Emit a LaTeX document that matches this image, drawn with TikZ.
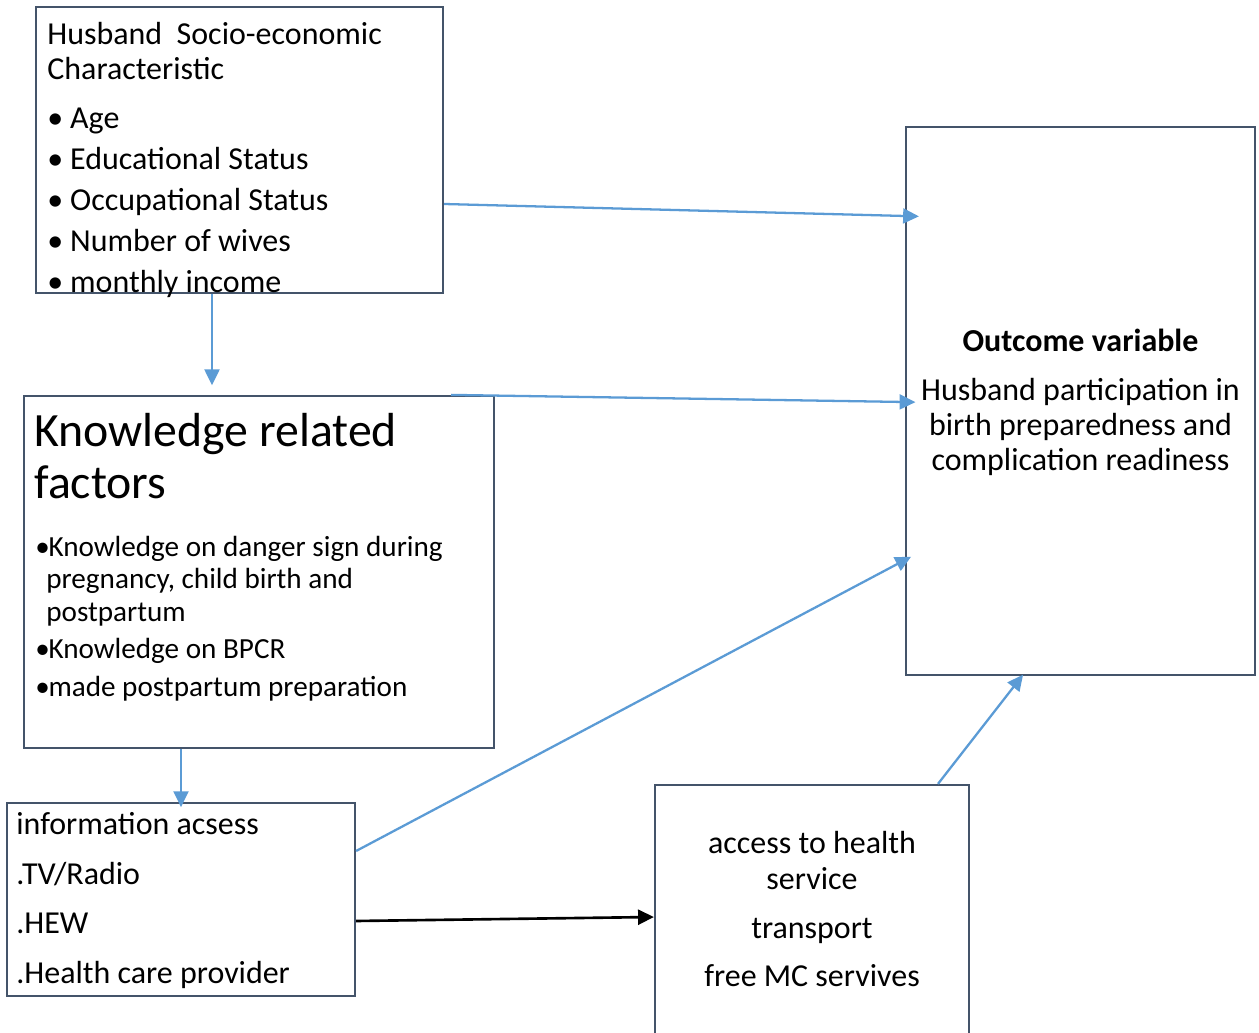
\documentclass[tikz,border=0pt]{standalone}
\usepackage{fontspec}
\setmainfont{Carlito}
\usetikzlibrary{arrows.meta}
\definecolor{boxline}{HTML}{44546A}
\definecolor{arrowblue}{HTML}{5B9BD5}
\tikzset{
  box/.style={draw=boxline,line width=1.3pt,inner sep=0pt},
  txt/.style={inner sep=0pt,font=\fontsize{18.2pt}{20pt}\selectfont},
  small/.style={inner sep=0pt,font=\fontsize{16.6pt}{19pt}\selectfont},
  big/.style={inner sep=0pt,font=\fontsize{27.2pt}{30pt}\selectfont},
  link/.style={draw=arrowblue,line width=1.3pt,-{Triangle[length=9pt,width=8.5pt]}},
  blacklink/.style={draw=black,line width=1.5pt,-{Triangle[length=9pt,width=8.5pt]}}
}
\begin{document}
\begin{tikzpicture}[x=0.02cm,y=-0.02cm]
  \useasboundingbox (0,0) rectangle (1259,1033);
  % boxes
  \node[box,minimum width=8.14cm,minimum height=5.72cm] (socio) at (239.5,150) {};
  \node[box,minimum width=9.4cm,minimum height=7.04cm] (know) at (259,572) {};
  \node[box,minimum width=6.96cm,minimum height=3.86cm] (info) at (181,899.5) {};
  \node[box,minimum width=6.28cm,minimum height=5.2cm] (access) at (812,915) {};
  \node[box,minimum width=6.98cm,minimum height=10.96cm] (outcome) at (1080.5,401) {};
  % socio-economic box
  \node[txt,anchor=base west] (socio-t1) at (47,45) {Husband\ \ Socio-economic};
  \node[txt,anchor=base west] (socio-t2) at (47,80) {Characteristic};
  \foreach \t/\y [count=\i] in {Age/129,Educational Status/170,Occupational Status/211,Number of wives/252,monthly income/293}
    \node[txt,anchor=base west] (socio-\i) at (47,\y) {\makebox[13pt][l]{\textbullet}\t};
  % knowledge box
  \node[big,anchor=base west] (know-t1) at (34,447) {Knowledge related};
  \node[big,anchor=base west] (know-t2) at (34,499) {factors};
  \node[small,anchor=base west] (know-1) at (35,557) {\makebox[7.5pt][l]{\textbullet}Knowledge on danger sign during};
  \node[small,anchor=base west] (know-2) at (46,589) {pregnancy, child birth and};
  \node[small,anchor=base west] (know-3) at (46,622) {postpartum};
  \node[small,anchor=base west] (know-4) at (35,659) {\makebox[7.5pt][l]{\textbullet}Knowledge on BPCR};
  \node[small,anchor=base west] (know-5) at (35,697) {\makebox[7.5pt][l]{\textbullet}made postpartum preparation};
  % information box
  \foreach \t/\y [count=\i] in {information acsess/835,{.TV/Radio}/885,.HEW/934,.Health care provider/984}
    \node[txt,anchor=base west] (info-\i) at (16,\y) {\t};
  % access box
  \foreach \t/\y [count=\i] in {access to health/854,service/890,transport/939,free MC servives/987}
    \node[txt,anchor=base] (access-\i) at (812,\y) {\t};
  % outcome box
  \node[txt,anchor=base,font=\fontsize{18.2pt}{20pt}\selectfont\bfseries] (outcome-t) at (1080.5,352) {Outcome variable};
  \foreach \t/\y [count=\i] in {Husband participation in/401,birth preparedness and/436,complication readiness/471}
    \node[txt,anchor=base] (outcome-\i) at (1080.5,\y) {\t};
  % connectors
  \draw[link,shorten >=-8pt] (socio.east |- 0,204) -- (outcome.west |- 0,216);
  \draw[link,shorten >=5.5pt] (socio.south -| 212,0) -- (know.north -| 212,0);
  \draw[link,shorten >=-6pt] (know.north -| 451,0) -- (outcome.west |- 0,402);
  \draw[link,shorten >=-4pt] (info.east |- 0,851) -- (outcome.west |- 0,560);
  \draw[link,shorten >=-3pt] (know.south -| 181,0) -- (info.north -| 181,0);
  \draw[blacklink] (info.east |- 0,921) -- (access.west |- 0,917);
  \draw[link,shorten >=-1pt] (access.north -| 938,0) -- (outcome.south -| 1022,0);
\end{tikzpicture}
\end{document}
